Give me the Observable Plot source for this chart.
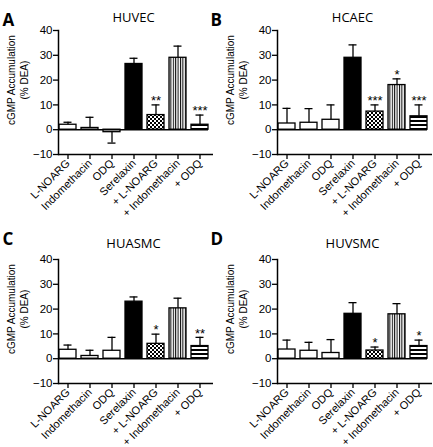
<!DOCTYPE html>
<html>
<head>
<meta charset="utf-8">
<script src="https://cdn.jsdelivr.net/npm/d3@7"></script>
<script src="https://cdn.jsdelivr.net/npm/@observablehq/plot@0.6"></script>
<style>
  html, body { margin: 0; padding: 0; background: white; }
  #chart { position: relative; width: 433px; height: 447px; overflow: hidden; }
  #chart svg.plot { position: absolute; overflow: visible; }
</style>
</head>
<body>
<svg width="0" height="0" style="position:absolute">
  <defs>
    <pattern id="checker" width="4" height="4" patternUnits="userSpaceOnUse">
      <rect width="4" height="4" fill="white"/>
      <rect width="2" height="2" fill="black"/>
      <rect x="2" y="2" width="2" height="2" fill="black"/>
    </pattern>
    <pattern id="vstripe" width="2.4" height="4" patternUnits="userSpaceOnUse">
      <rect width="2.4" height="4" fill="white"/>
      <rect width="1" height="4" fill="black"/>
    </pattern>
    <pattern id="hstripe" width="4" height="4" patternUnits="userSpaceOnUse">
      <rect width="4" height="4" fill="white"/>
      <rect y="0" width="4" height="2" fill="black"/>
    </pattern>
  </defs>
</svg>
<div id="chart"></div>
<script>
// ---- data ----
const categories = ["L-NOARG", "Indomethacin", "ODQ", "Serelaxin", "+ L-NOARG", "+ Indomethacin", "+ ODQ"];
const yTicks = [-10, 0, 10, 20, 30, 40];

const huvecMean = [2.0, 0.7, -1.0, 26.5, 5.9, 29.0, 2.0];
const huvecSem  = [1.0, 4.3, 4.4, 2.3, 4.1, 4.7, 3.9];
const huvecStars = ["", "", "", "", "**", "", "***"];

const hcaecMean = [2.5, 2.8, 4.0, 29.0, 7.3, 18.0, 5.4];
const hcaecSem  = [6.1, 5.7, 6.0, 5.2, 2.7, 2.5, 4.6];
const hcaecStars = ["", "", "", "", "***", "*", "***"];

const huasmcMean = [3.6, 1.1, 3.2, 23.0, 6.0, 20.3, 5.1];
const huasmcSem  = [1.9, 2.3, 5.4, 1.9, 3.9, 4.1, 3.5];
const huasmcStars = ["", "", "", "", "*", "", "**"];

const huvsmcMean = [3.7, 3.2, 2.3, 18.1, 3.3, 17.9, 5.1];
const huvsmcSem  = [3.8, 3.4, 5.4, 4.5, 1.4, 4.3, 2.4];
const huvsmcStars = ["", "", "", "", "*", "", "*"];

// ---- styles ----
const barFills = ["white", "white", "white", "black", "url(#checker)", "url(#vstripe)", "url(#hstripe)"];

const panels = [
  {letter: "A", title: "HUVEC",  mean: huvecMean,  sem: huvecSem,  stars: huvecStars,  left: 0,   top: 0,   width: 216, letterDx: -56, letterDy: -17, titleDy: -18},
  {letter: "B", title: "HCAEC",  mean: hcaecMean,  sem: hcaecSem,  stars: hcaecStars,  left: 219, top: 0,   width: 214, letterDx: -67, letterDy: -17, titleDy: -18},
  {letter: "C", title: "HUASMC", mean: huasmcMean, sem: huasmcSem, stars: huasmcStars, left: 0,   top: 229, width: 216, letterDx: -56, letterDy: -27, titleDy: -21},
  {letter: "D", title: "HUVSMC", mean: huvsmcMean, sem: huvsmcSem, stars: huvsmcStars, left: 219, top: 229, width: 214, letterDx: -67, letterDy: -27, titleDy: -21}
];

const chart = document.getElementById("chart");
const FONT = "'Liberation Sans', Arial, sans-serif";

for (const p of panels) {
  const rows = categories.map((c, i) => ({
    cat: c,
    mean: p.mean[i],
    err: p.mean[i] + (p.mean[i] < 0 ? -p.sem[i] : p.sem[i]),
    star: p.stars[i],
    fill: barFills[i]
  }));
  const svg = Plot.plot({
    width: p.width,
    height: 220,
    marginLeft: 58,
    marginRight: p.width - 208,
    marginTop: 30,
    marginBottom: 66,
    style: {fontFamily: FONT, fontSize: "11px", color: "black", background: "transparent", overflow: "visible"},
    x: {domain: categories, paddingInner: 0.25, paddingOuter: 0, label: null},
    y: {domain: [-10, 40], label: null},
    marks: [
      Plot.barY(rows, {x: "cat", y: "mean", fill: "fill", stroke: "black", strokeWidth: 1.3}),
      Plot.ruleX(rows, {x: "cat", y1: "mean", y2: "err", stroke: "black", strokeWidth: 1.3}),
      Plot.tickY(rows, {x: "cat", y: "err", stroke: "black", strokeWidth: 1.3, insetLeft: 4.5, insetRight: 4.5}),
      Plot.text(rows.filter(d => d.star), {x: "cat", y: "err", text: "star", dy: -4, fontSize: 13, fill: "black"}),
      Plot.ruleY([0], {stroke: "black", strokeWidth: 1.5}),
      Plot.ruleY([-10], {stroke: "black", strokeWidth: 1.5, insetRight: -5}),
      Plot.frame({anchor: "left", stroke: "black", strokeWidth: 1.5}),
      Plot.axisY({ticks: yTicks, tickSize: 5, tickPadding: 1, fontSize: 11.5, label: null, strokeWidth: 1.3}),
      Plot.axisX({tickSize: 5, tickPadding: 2, tickRotate: -45, fontSize: 11, label: null, strokeWidth: 1.3}),
      Plot.text([p.title], {frameAnchor: "top", dy: p.titleDy, fontSize: 13, fontFamily: "'Open Sans', sans-serif", fill: "black"}),
      Plot.text([p.letter], {frameAnchor: "top-left", dx: p.letterDx, dy: p.letterDy, textAnchor: "start", fontSize: 17, fontWeight: "bold", fontFamily: "'Open Sans', sans-serif", fill: "black"}),
      Plot.text(["cGMP Accumulation\n(% DEA)"], {y: [20], frameAnchor: "left", textAnchor: "middle", lineAnchor: "middle", dx: -41, rotate: -90, fontSize: 10, lineHeight: 1.3, fill: "black"})
    ]
  });
  svg.classList.add("plot");
  svg.style.left = p.left + "px";
  svg.style.top = p.top + "px";
  chart.appendChild(svg);
}
</script>
</body>
</html>
